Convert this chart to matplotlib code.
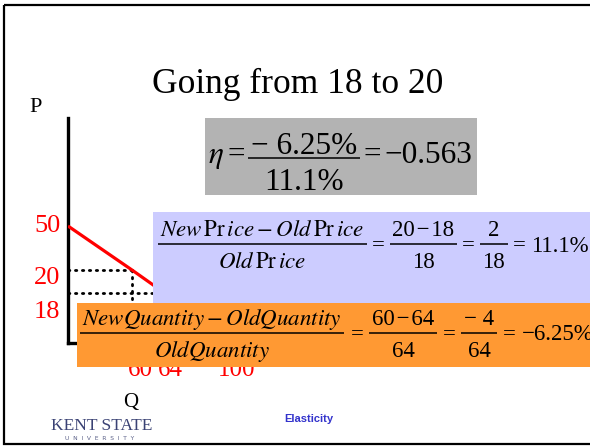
import numpy as np
import matplotlib
matplotlib.use("Agg")
import matplotlib.pyplot as plt
from matplotlib.patches import Rectangle
from matplotlib.scale import FuncScale

plt.rcParams['font.family'] = ['Liberation Serif', 'DejaVu Serif']
plt.rcParams['mathtext.fontset'] = 'stix'

MINUS = "\u2212"

# ---------------- data ----------------
title = "Going from 18 to 20"
price_levels = [50, 20, 18]
quantity_levels = [60, 64, 100]
demand_q = [0, 60, 64, 100]
demand_p = [50, 20, 18, 0]
old_price, new_price = 18, 20
old_qty, new_qty = 64, 60
pct_price = "11.1%"
pct_qty = MINUS + "6.25%"
pct_qty_num = MINUS + " 6.25%"
elasticity = MINUS + "0.563"
footer = "Elasticity"

# ---------------- figure ----------------
W, H = 590, 446
fig = plt.figure(figsize=(W / 100, H / 100), dpi=100)
renderer = fig.canvas.get_renderer()

# schematic (not-to-scale) diagram axes
ax_l, ax_r, ax_b, ax_t = 68, 300, 343, 118
ax = fig.add_axes([ax_l / W, (H - ax_b) / H, (ax_r - ax_l) / W, (ax_b - ax_t) / H], zorder=1)


def piecewise(xs, ys):
    xs = np.asarray(xs, float)
    ys = np.asarray(ys, float)

    def f(v):
        v = np.asarray(v, float)
        out = np.interp(v, xs, ys)
        s0 = (ys[1] - ys[0]) / (xs[1] - xs[0])
        s1 = (ys[-1] - ys[-2]) / (xs[-1] - xs[-2])
        out = np.where(v < xs[0], ys[0] + (v - xs[0]) * s0, out)
        out = np.where(v > xs[-1], ys[-1] + (v - xs[-1]) * s1, out)
        return out
    return f


q_anchor = ([0, 60, 64, 100, 140], [0, 64, 96.5, 168.6, 232])
p_anchor = ([0, 18, 20, 50, 100], [0, 50, 73, 117, 225])
ax.set_xscale(FuncScale(ax.xaxis, (piecewise(*q_anchor), piecewise(q_anchor[1], q_anchor[0]))))
ax.set_yscale(FuncScale(ax.yaxis, (piecewise(*p_anchor), piecewise(p_anchor[1], p_anchor[0]))))
ax.set_xlim(0, 140)
ax.set_ylim(0, 100)
ax.patch.set_alpha(0)
for s in ['top', 'right']:
    ax.spines[s].set_visible(False)
for s in ['left', 'bottom']:
    ax.spines[s].set_linewidth(2.4)
    ax.spines[s].set_color('black')
ax.set_xticks([])
ax.set_yticks([])

dot = dict(color='black', lw=2, ls=(0, (0.5, 2.0)), dash_capstyle='round', zorder=2)
ax.plot(demand_q, demand_p, color='red', lw=2.3, solid_capstyle='butt', zorder=3)
ax.plot([0, new_qty], [new_price, new_price], **dot)
ax.plot([0, old_qty], [old_price, old_price], **dot)
ax.plot([new_qty, new_qty], [new_price, 0], **dot)

p_offsets = {50: 0, 20: -5.5, 18: -14}
for p in price_levels:
    ax.annotate(str(p), xy=(0, p), xytext=(-15, p_offsets[p]), textcoords='offset points',
                ha='center', va='center', color='red', fontsize=19, annotation_clip=False)
q_offsets = {60: 6, 64: 4, 100: 0}
for q in quantity_levels:
    ax.annotate(str(q), xy=(q, 0), xytext=(q_offsets[q], -19.5), textcoords='offset points',
                ha='center', va='center', color='red', fontsize=18, annotation_clip=False)

# overlay in pixel coordinates (slide layout)
bg = fig.add_axes([0, 0, 1, 1], zorder=2)
bg.set_xlim(0, W)
bg.set_ylim(H, 0)
bg.axis('off')


def text_w(t):
    return t.get_window_extent(renderer).width


def eq_row(x0, yline, items, size, num_off, den_off, inline_off, gap, pad=2.5, z=5):
    """Lay out an equation: strings are inline, (num, den) tuples are fractions."""
    x = x0
    for it in items:
        if isinstance(it, tuple):
            num, den = it
            tn = bg.text(0, yline - num_off, num, fontsize=size, ha='center', va='baseline', zorder=z)
            td = bg.text(0, yline + den_off, den, fontsize=size, ha='center', va='baseline', zorder=z)
            w = max(text_w(tn), text_w(td)) + 2 * pad
            tn.set_x(x + w / 2)
            td.set_x(x + w / 2)
            bg.plot([x, x + w], [yline, yline], color='black', lw=1.1, zorder=z,
                    solid_capstyle='butt')
            x += w + gap
        else:
            t = bg.text(x, yline + inline_off, it, fontsize=size, ha='left', va='baseline', zorder=z)
            x += text_w(t) + gap


bg.add_patch(Rectangle((4, 5), 620, 439, fill=False, ec='black', lw=1.6, clip_on=False))

bg.text(298, 93, title, ha='center', va='baseline', fontsize=25.5)
bg.text(36, 108, "P", ha='center', va='center', fontsize=16)
bg.text(131, 403, "Q", ha='center', va='center', fontsize=15, zorder=6)

# grey elasticity box
bg.add_patch(Rectangle((205, 118), 272, 77, color='#b3b3b3', lw=0))
eq_row(208, 158,
       [r"$\eta$", "=", (pct_qty_num, pct_price), "=", elasticity],
       size=22.5, num_off=3.5, den_off=32, inline_off=5, gap=3.5)

# blue price box
price_word = r"\mathit{New}\,\mathrm{Pr}\,\mathit{ice}"
old_price_word = r"\mathit{Old}\,\mathrm{Pr}\,\mathit{ice}"
bg.add_patch(Rectangle((153, 212), 450, 91, color='#ccccff', lw=0, zorder=3))
eq_row(158, 244,
       [(r"$" + price_word + r" - " + old_price_word + "$", r"$" + old_price_word + "$"),
        "=",
        ("%d\u200a%s\u200a%d" % (new_price, MINUS, old_price), "%d" % old_price),
        "=",
        ("%d" % (new_price - old_price), "%d" % old_price),
        "=",
        pct_price],
       size=16.5, num_off=7.5, den_off=24, inline_off=7.5, gap=5)

# orange quantity box
bg.add_patch(Rectangle((77, 303), 530, 64, color='#ff9933', lw=0, zorder=3))
eq_row(80, 333,
       [(r"$\mathit{NewQuantity} - \mathit{OldQuantity}$", r"$\mathit{OldQuantity}$"),
        "=",
        ("%d\u200a%s\u200a%d" % (new_qty, MINUS, old_qty), "%d" % old_qty),
        "=",
        ("%s %d" % (MINUS, abs(new_qty - old_qty)), "%d" % old_qty),
        "=",
        pct_qty],
       size=16.5, num_off=8, den_off=24, inline_off=7, gap=6)

# footer
bg.text(102, 430, "KENT STATE", ha='center', va='baseline', fontsize=12.5, color='#3a4274')
bg.text(100, 440, "U  N  I  V  E  R  S  I  T  Y", ha='center', va='baseline', fontsize=4.3,
        color='#5a6088', family='DejaVu Sans')
bg.text(309, 419, footer, ha='center', va='center', fontsize=8, color='#3333cc',
        family='Liberation Sans', weight='bold')

fig.savefig("out.png", dpi=100)
